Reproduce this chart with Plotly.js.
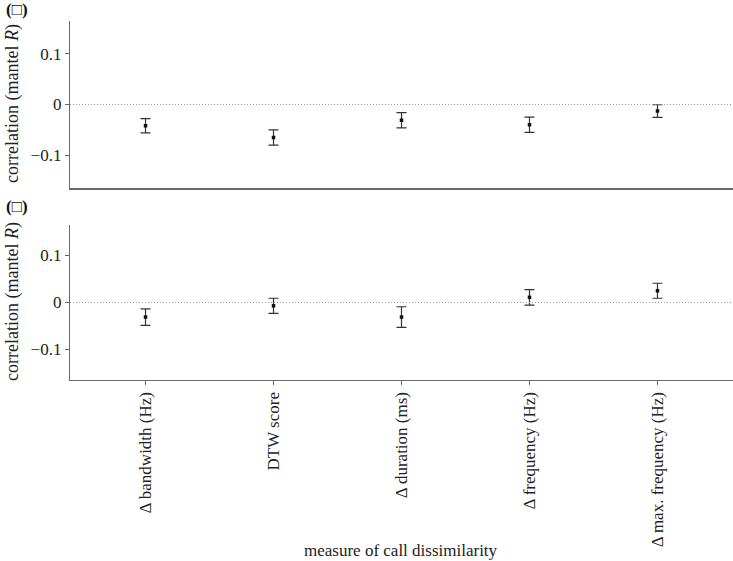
<!DOCTYPE html>
<html>
<head>
<meta charset="utf-8">
<script src="https://cdn.plot.ly/plotly-3.0.1.min.js"></script>
<style>html,body{margin:0;padding:0;background:#fff;}#chart{width:733px;height:561px;}</style>
</head>
<body>
<div id="chart"></div>
<script>
// Data
const categories = ['Δ bandwidth (Hz)', 'DTW score', 'Δ duration (ms)', 'Δ frequency (Hz)', 'Δ max. frequency (Hz)'];
const topR = [-0.042, -0.065, -0.031, -0.040, -0.013];
const topErr = [0.014, 0.015, 0.015, 0.015, 0.0125];
const bottomR = [-0.031, -0.007, -0.031, 0.011, 0.025];
const bottomErr = [0.0175, 0.016, 0.022, 0.0165, 0.016];
const yTickVals = [-0.1, 0, 0.1];
const yTickText = ['\u22120.1', '0', '0.1'];
const panelLabels = ['(\u25A1)', '(\u25A1)'];
const yTitle = 'correlation (mantel <i>R</i>)';
const xTitle = 'measure of call dissimilarity';

const W = 733, H = 561;
const FONT = '"Liberation Serif", "DejaVu Serif", serif';
const px = v => v / W;
const py = v => 1 - v / H;

const errStyle = arr => ({type: 'data', array: arr, visible: true, color: '#333', thickness: 1.2, width: 5});
const traces = [
  {x: categories, y: topR, xaxis: 'x', yaxis: 'y', type: 'scatter', mode: 'markers',
   marker: {color: '#111', size: 3.5, symbol: 'square'}, error_y: errStyle(topErr), hoverinfo: 'skip'},
  {x: categories, y: bottomR, xaxis: 'x2', yaxis: 'y2', type: 'scatter', mode: 'markers',
   marker: {color: '#111', size: 3.5, symbol: 'square'}, error_y: errStyle(bottomErr), hoverinfo: 'skip'}
];

const xRange = [-0.59, 4.59];
const yRange = [-0.165, 0.165];
const yAxisBase = {
  range: yRange, tickvals: yTickVals, ticktext: yTickText, ticks: 'outside', ticklen: 4,
  tickcolor: '#666', showline: true, linecolor: '#6a6a6a', linewidth: 1.2, showgrid: false,
  zeroline: false, tickfont: {family: FONT, size: 17, color: '#222'}, automargin: false
};
const xAxisBase = {
  range: xRange, type: 'category', showline: true, linecolor: '#6a6a6a', linewidth: 1.2,
  showgrid: false, zeroline: false, automargin: false, domain: [px(70), 1]
};

const layout = {
  width: W, height: H,
  margin: {l: 0, r: 0, t: 0, b: 0},
  paper_bgcolor: '#fff', plot_bgcolor: '#fff',
  showlegend: false,
  font: {family: FONT, color: '#222'},
  xaxis: Object.assign({}, xAxisBase, {anchor: 'y', showticklabels: false, ticks: ''}),
  yaxis: Object.assign({}, yAxisBase, {anchor: 'x', domain: [py(188.3), py(20.7)]}),
  xaxis2: Object.assign({}, xAxisBase, {anchor: 'y2', ticks: 'outside', ticklen: 4, tickcolor: '#666',
    tickangle: -90, tickfont: {family: FONT, size: 17, color: '#222'}}),
  yaxis2: Object.assign({}, yAxisBase, {anchor: 'x2', domain: [py(380), py(225)]}),
  shapes: [
    {type: 'line', xref: 'x domain', yref: 'y', x0: 0, x1: 1, y0: 0, y1: 0,
     line: {color: '#999', width: 1, dash: '1px,2px'}},
    {type: 'line', xref: 'x2 domain', yref: 'y2', x0: 0, x1: 1, y0: 0, y1: 0,
     line: {color: '#999', width: 1, dash: '1px,2px'}}
  ],
  annotations: [
    {text: '<b>' + panelLabels[0] + '</b>', xref: 'paper', yref: 'paper', x: px(17), y: py(10),
     xanchor: 'center', yanchor: 'middle', showarrow: false, font: {family: FONT, size: 17, color: '#111'}},
    {text: '<b>' + panelLabels[1] + '</b>', xref: 'paper', yref: 'paper', x: px(17), y: py(207),
     xanchor: 'center', yanchor: 'middle', showarrow: false, font: {family: FONT, size: 17, color: '#111'}},
    {text: yTitle, xref: 'paper', yref: 'paper', x: px(12), y: py(104), textangle: -90,
     xanchor: 'center', yanchor: 'middle', showarrow: false, font: {family: FONT, size: 18, color: '#222'}},
    {text: yTitle, xref: 'paper', yref: 'paper', x: px(12), y: py(302), textangle: -90,
     xanchor: 'center', yanchor: 'middle', showarrow: false, font: {family: FONT, size: 18, color: '#222'}},
    {text: xTitle, xref: 'paper', yref: 'paper', x: px(401), y: py(550),
     xanchor: 'center', yanchor: 'middle', showarrow: false, font: {family: FONT, size: 17, color: '#222'}}
  ]
};

Plotly.newPlot('chart', traces, layout, {staticPlot: true, displayModeBar: false});
</script>
</body>
</html>
